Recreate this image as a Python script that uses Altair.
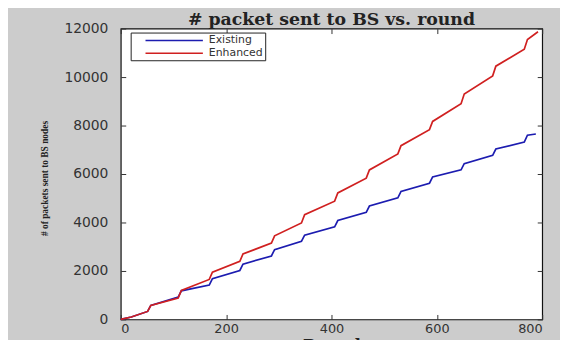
import altair as alt
import pandas as pd

series_names = ["Existing", "Enhanced"]
colors = ["#1c1cb0", "#d02020"]

existing_round = [0, 20, 51, 57, 109, 115, 168, 174, 226, 232, 286, 292, 343, 349,
                  406, 412, 466, 472, 526, 532, 586, 592, 646, 652, 706, 712,
                  766, 772, 788]
existing_val = [0, 100, 330, 580, 920, 1180, 1420, 1680, 2020, 2280, 2620, 2880,
                3220, 3480, 3820, 4080, 4420, 4680, 5020, 5280, 5620, 5880,
                6170, 6430, 6770, 7030, 7320, 7600, 7650]

enhanced_round = [0, 20, 51, 57, 109, 115, 168, 174, 226, 232, 286, 292, 343, 349,
                  406, 412, 466, 472, 526, 532, 586, 592, 646, 652, 706, 712,
                  766, 772, 792]
enhanced_val = [0, 100, 330, 580, 880, 1200, 1650, 1950, 2400, 2700, 3150, 3450,
                3980, 4320, 4880, 5220, 5830, 6170, 6830, 7170, 7830, 8170,
                8900, 9300, 10050, 10450, 11150, 11550, 11870]

x_ticks = [0, 200, 400, 600, 800]
y_ticks = [0, 2000, 4000, 6000, 8000, 10000, 12000]

rows = []
for r, v in zip(existing_round, existing_val):
    rows.append({"round": r, "packets": v, "series": "Existing"})
for r, v in zip(enhanced_round, enhanced_val):
    rows.append({"round": r, "packets": v, "series": "Enhanced"})
df = pd.DataFrame(rows)

label_font = "DejaVu Sans"
xscale = alt.Scale(domain=[0, 800], nice=False, zero=False)
yscale = alt.Scale(domain=[0, 12000], nice=False)

lines = alt.Chart(df).mark_line(strokeWidth=1.7).encode(
    x=alt.X("round:Q", scale=xscale,
            axis=alt.Axis(values=x_ticks, orient="bottom", offset=-5, tickSize=5,
                          domain=False, grid=False, labelPadding=3, format="d",
                          labelFont=label_font, labelFontSize=13, labelColor="#333",
                          tickColor="#333", title="Round",
                          titleFont="DejaVu Serif", titleFontWeight="bold",
                          titleFontSize=16, titleColor="#222",
                          titleBaseline="top", titleY=23)),
    y=alt.Y("packets:Q", scale=yscale,
            axis=alt.Axis(values=y_ticks, orient="left", offset=-5, tickSize=5,
                          domain=False, grid=False, labelPadding=13, format="d",
                          labelFont=label_font, labelFontSize=14, labelColor="#333",
                          tickColor="#333",
                          title="# of packets sent to BS nodes",
                          titleFont="Liberation Serif", titleFontSize=9.5,
                          titleFontWeight="bold",
                          titleColor="#222", titleAngle=-90,
                          titleAlign="center", titleBaseline="middle",
                          titleX=-82, titleY=151)),
    color=alt.Color("series:N",
                    scale=alt.Scale(domain=series_names, range=colors),
                    legend=alt.Legend(orient="none", legendX=10, legendY=4,
                                      title=None, symbolType="M1.4,0H13",
                                      symbolSize=100, symbolStrokeWidth=1.5,
                                      labelFont=label_font, labelFontSize=11,
                                      labelColor="#333", strokeColor="#222",
                                      fillColor="white", padding=2,
                                      rowPadding=2, labelOffset=65)),
    detail="series:N",
)

frame = alt.Chart(df).mark_line(opacity=0).encode(
    x=alt.X("round:Q", scale=xscale,
            axis=alt.Axis(values=x_ticks, orient="top", offset=-5, tickSize=5,
                          domain=False, grid=False, labels=False, title=None,
                          tickColor="#333")),
    y=alt.Y("packets:Q", scale=yscale,
            axis=alt.Axis(values=y_ticks, orient="right", offset=-5, tickSize=5,
                          domain=False, grid=False, labels=False, title=None,
                          tickColor="#333")),
    detail="series:N",
)

chart = alt.layer(lines, frame).resolve_axis(
    x="independent", y="independent"
).properties(
    width=426, height=294,
    autosize=alt.AutoSizeParams(type="none"),
    padding={"left": 114, "top": 19, "right": 18, "bottom": 22},
    background="#cccccc",
    title=alt.TitleParams("# packet sent to BS vs. round", font="DejaVu Serif",
                          fontWeight="bold", fontSize=17.5, color="#222",
                          anchor="middle", offset=-7),
).configure_view(stroke="#111", strokeWidth=1.2, fill="white")

chart.save("out.html", embed_options={"renderer": "svg", "actions": False})
